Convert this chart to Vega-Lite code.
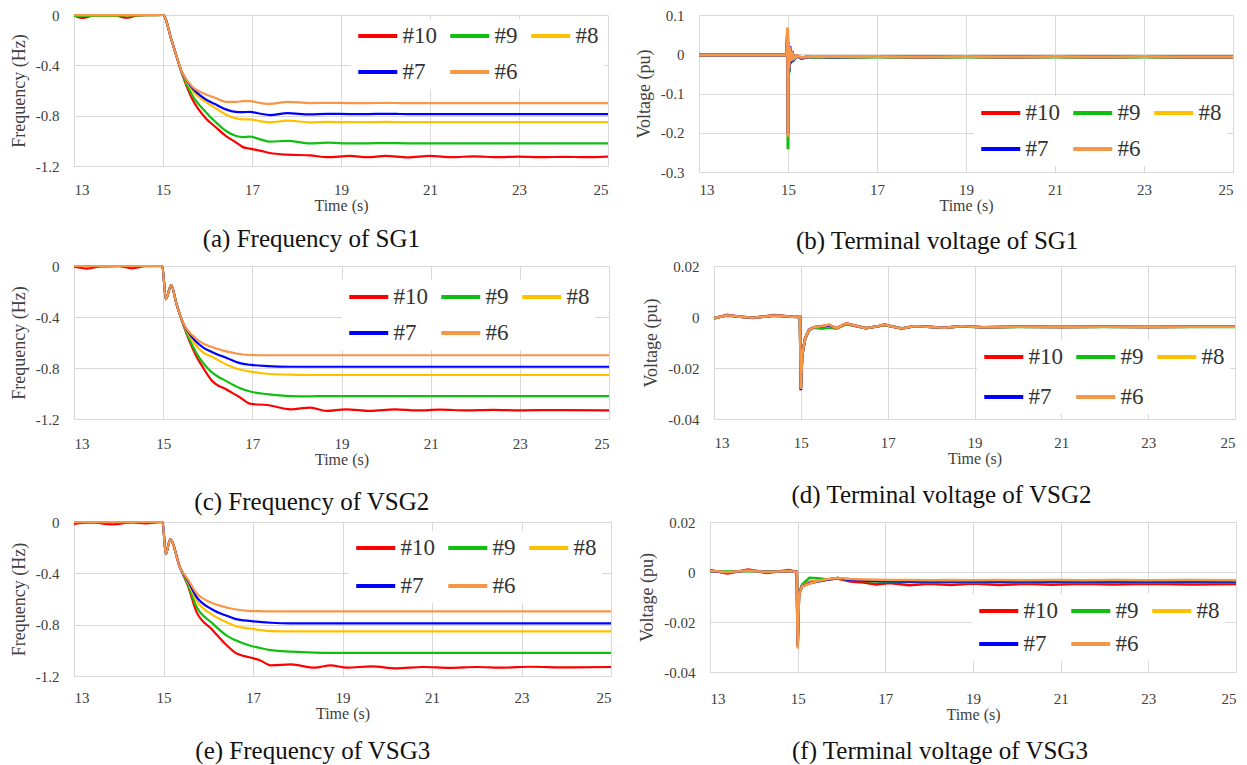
{
  "$schema": "https://vega.github.io/schema/vega-lite/v6.json",
  "background": "white",
  "padding": {"left": 10, "top": 8, "right": 4, "bottom": 0},
  "config": {
    "view": {"stroke": null},
    "axis": {"labelFont": "Liberation Serif", "labelFontSize": 15, "labelColor": "#404040", "titleFont": "Liberation Serif", "titleFontWeight": "normal", "titleColor": "#404040", "gridColor": "#d9d9d9", "domainColor": "#d9d9d9", "ticks": false},
    "axisX": {"titleFontSize": 16, "titlePadding": 0, "labelPadding": 16},
    "axisY": {"titleFontSize": 18, "labelPadding": 15, "titlePadding": 7},
    "legend": {"columns": 3, "direction": "horizontal", "symbolType": "M-1,0H3", "symbolStrokeWidth": 4, "symbolSize": 380, "labelFont": "Liberation Serif", "labelFontSize": 23, "labelColor": "#333333", "labelOffset": 22.5, "columnPadding": 5, "rowPadding": 12, "fillColor": "white", "padding": 5},
    "title": {"font": "Liberation Serif", "fontSize": 25, "fontWeight": "normal", "color": "#111111", "orient": "bottom", "anchor": "middle", "frame": "bounds"}
  },
  "datasets": {
    "a": [
      {"t": 13.0, "#10": -0.004, "#9": -0.008, "#8": -0.002, "#7": 0, "#6": 0},
      {"t": 13.2, "#10": -0.024, "#9": -0.007, "#8": -0.002, "#7": 0, "#6": 0},
      {"t": 13.45, "#10": -0.004, "#9": -0.006, "#8": -0.001, "#7": 0, "#6": 0},
      {"t": 13.9, "#10": -0.003, "#9": -0.005, "#8": -0.001, "#7": 0, "#6": 0},
      {"t": 14.2, "#10": -0.022, "#9": -0.004, "#8": -0.001, "#7": 0, "#6": 0},
      {"t": 14.45, "#10": -0.003, "#9": -0.003, "#8": 0, "#7": 0, "#6": 0},
      {"t": 14.8, "#10": -0.001, "#9": -0.001, "#8": 0, "#7": 0, "#6": 0},
      {"t": 15.0, "#10": 0, "#9": 0, "#8": 0, "#7": 0, "#6": 0},
      {"t": 15.2, "#10": -0.21, "#9": -0.21, "#8": -0.21, "#7": -0.21, "#6": -0.21},
      {"t": 15.43, "#10": -0.47, "#9": -0.465, "#8": -0.46, "#7": -0.458, "#6": -0.455},
      {"t": 15.66, "#10": -0.67, "#9": -0.64, "#8": -0.6, "#7": -0.58, "#6": -0.57},
      {"t": 15.96, "#10": -0.82, "#9": -0.77, "#8": -0.69, "#7": -0.67, "#6": -0.63},
      {"t": 16.18, "#10": -0.89, "#9": -0.85, "#8": -0.74, "#7": -0.71, "#6": -0.66},
      {"t": 16.41, "#10": -0.96, "#9": -0.92, "#8": -0.79, "#7": -0.75, "#6": -0.69},
      {"t": 16.63, "#10": -1.01, "#9": -0.96, "#8": -0.82, "#7": -0.77, "#6": -0.69},
      {"t": 16.8, "#10": -1.05, "#9": -0.97, "#8": -0.83, "#7": -0.772, "#6": -0.685},
      {"t": 16.95, "#10": -1.062, "#9": -0.967, "#8": -0.83, "#7": -0.77, "#6": -0.685},
      {"t": 17.2, "#10": -1.08, "#9": -0.99, "#8": -0.845, "#7": -0.785, "#6": -0.7},
      {"t": 17.4, "#10": -1.097, "#9": -1.007, "#8": -0.853, "#7": -0.795, "#6": -0.707},
      {"t": 17.8, "#10": -1.11, "#9": -1.0, "#8": -0.84, "#7": -0.78, "#6": -0.69},
      {"t": 18.3, "#10": -1.115, "#9": -1.02, "#8": -0.853, "#7": -0.79, "#6": -0.7},
      {"t": 18.7, "#10": -1.13, "#9": -1.015, "#8": -0.85, "#7": -0.785, "#6": -0.698},
      {"t": 19.2, "#10": -1.12, "#9": -1.02, "#8": -0.852, "#7": -0.787, "#6": -0.7},
      {"t": 19.6, "#10": -1.13, "#9": -1.02, "#8": -0.852, "#7": -0.787, "#6": -0.7},
      {"t": 20.0, "#10": -1.12, "#9": -1.018, "#8": -0.85, "#7": -0.786, "#6": -0.699},
      {"t": 20.5, "#10": -1.132, "#9": -1.02, "#8": -0.852, "#7": -0.787, "#6": -0.7},
      {"t": 21.0, "#10": -1.12, "#9": -1.02, "#8": -0.852, "#7": -0.787, "#6": -0.7},
      {"t": 21.5, "#10": -1.13, "#9": -1.02, "#8": -0.852, "#7": -0.787, "#6": -0.7},
      {"t": 22.0, "#10": -1.123, "#9": -1.02, "#8": -0.852, "#7": -0.787, "#6": -0.7},
      {"t": 22.5, "#10": -1.13, "#9": -1.02, "#8": -0.852, "#7": -0.787, "#6": -0.7},
      {"t": 23.0, "#10": -1.125, "#9": -1.02, "#8": -0.852, "#7": -0.787, "#6": -0.7},
      {"t": 23.5, "#10": -1.13, "#9": -1.02, "#8": -0.852, "#7": -0.787, "#6": -0.7},
      {"t": 24.0, "#10": -1.127, "#9": -1.02, "#8": -0.852, "#7": -0.787, "#6": -0.7},
      {"t": 24.5, "#10": -1.13, "#9": -1.02, "#8": -0.852, "#7": -0.787, "#6": -0.7},
      {"t": 25.0, "#10": -1.126, "#9": -1.02, "#8": -0.852, "#7": -0.787, "#6": -0.7}
    ],
    "b": [
      {"t": 13.0, "#10": -0.002, "#9": -0.002, "#8": -0.002, "#7": -0.002, "#6": -0.002},
      {"t": 14.0, "#10": -0.002, "#9": -0.002, "#8": -0.002, "#7": -0.002, "#6": -0.002},
      {"t": 14.97, "#10": -0.002, "#9": -0.002, "#8": -0.002, "#7": -0.002, "#6": -0.002},
      {"t": 14.99, "#10": 0.05, "#9": 0.05, "#8": 0.055, "#7": 0.06, "#6": 0.068},
      {"t": 15.0, "#10": -0.2, "#9": -0.242, "#8": -0.2, "#7": -0.2, "#6": -0.21},
      {"t": 15.01, "#10": 0.03, "#9": 0.02, "#8": 0.025, "#7": 0.03, "#6": 0.03},
      {"t": 15.02, "#10": -0.04, "#9": -0.05, "#8": -0.04, "#7": -0.045, "#6": -0.035},
      {"t": 15.04, "#10": 0.02, "#9": 0.015, "#8": 0.015, "#7": 0.02, "#6": 0.018},
      {"t": 15.06, "#10": -0.02, "#9": -0.025, "#8": -0.02, "#7": -0.022, "#6": -0.018},
      {"t": 15.09, "#10": 0.008, "#9": 0.005, "#8": 0.006, "#7": 0.008, "#6": 0.007},
      {"t": 15.13, "#10": -0.012, "#9": -0.014, "#8": -0.012, "#7": -0.013, "#6": -0.011},
      {"t": 15.2, "#10": -0.004, "#9": -0.005, "#8": -0.004, "#7": -0.004, "#6": -0.004},
      {"t": 15.3, "#10": -0.009, "#9": -0.01, "#8": -0.009, "#7": -0.01, "#6": -0.008},
      {"t": 15.5, "#10": -0.006, "#9": -0.007, "#8": -0.006, "#7": -0.006, "#6": -0.006},
      {"t": 16.0, "#10": -0.007, "#9": -0.008, "#8": -0.007, "#7": -0.007, "#6": -0.006},
      {"t": 17.0, "#10": -0.006, "#9": -0.007, "#8": -0.006, "#7": -0.006, "#6": -0.006},
      {"t": 18.0, "#10": -0.007, "#9": -0.008, "#8": -0.007, "#7": -0.007, "#6": -0.007},
      {"t": 19.0, "#10": -0.006, "#9": -0.007, "#8": -0.006, "#7": -0.006, "#6": -0.006},
      {"t": 20.0, "#10": -0.007, "#9": -0.008, "#8": -0.007, "#7": -0.007, "#6": -0.007},
      {"t": 21.0, "#10": -0.006, "#9": -0.007, "#8": -0.006, "#7": -0.006, "#6": -0.006},
      {"t": 22.0, "#10": -0.007, "#9": -0.008, "#8": -0.007, "#7": -0.007, "#6": -0.007},
      {"t": 23.0, "#10": -0.006, "#9": -0.007, "#8": -0.006, "#7": -0.006, "#6": -0.006},
      {"t": 24.0, "#10": -0.007, "#9": -0.008, "#8": -0.007, "#7": -0.007, "#6": -0.007},
      {"t": 25.0, "#10": -0.007, "#9": -0.008, "#8": -0.007, "#7": -0.007, "#6": -0.007}
    ],
    "c": [
      {"t": 13.0, "#10": -0.006, "#9": -0.002, "#8": 0, "#7": 0, "#6": 0},
      {"t": 13.3, "#10": -0.02, "#9": -0.002, "#8": 0, "#7": 0, "#6": 0},
      {"t": 13.6, "#10": -0.003, "#9": -0.001, "#8": 0, "#7": 0, "#6": 0},
      {"t": 14.0, "#10": -0.002, "#9": 0, "#8": 0, "#7": 0, "#6": 0},
      {"t": 14.3, "#10": -0.018, "#9": -0.001, "#8": 0, "#7": 0, "#6": 0},
      {"t": 14.6, "#10": -0.002, "#9": 0, "#8": 0, "#7": 0, "#6": 0},
      {"t": 14.98, "#10": 0, "#9": 0, "#8": 0, "#7": 0, "#6": 0},
      {"t": 15.06, "#10": -0.26, "#9": -0.26, "#8": -0.26, "#7": -0.26, "#6": -0.26},
      {"t": 15.18, "#10": -0.15, "#9": -0.15, "#8": -0.15, "#7": -0.15, "#6": -0.15},
      {"t": 15.3, "#10": -0.3, "#9": -0.3, "#8": -0.3, "#7": -0.3, "#6": -0.3},
      {"t": 15.45, "#10": -0.46, "#9": -0.455, "#8": -0.45, "#7": -0.448, "#6": -0.445},
      {"t": 15.73, "#10": -0.698, "#9": -0.672, "#8": -0.62, "#7": -0.59, "#6": -0.567},
      {"t": 15.9, "#10": -0.8, "#9": -0.763, "#8": -0.68, "#7": -0.64, "#6": -0.61},
      {"t": 16.08, "#10": -0.894, "#9": -0.83, "#8": -0.71, "#7": -0.672, "#6": -0.633},
      {"t": 16.44, "#10": -0.973, "#9": -0.907, "#8": -0.776, "#7": -0.724, "#6": -0.672},
      {"t": 16.7, "#10": -1.025, "#9": -0.955, "#8": -0.81, "#7": -0.76, "#6": -0.69},
      {"t": 16.97, "#10": -1.082, "#9": -0.986, "#8": -0.829, "#7": -0.776, "#6": -0.698},
      {"t": 17.33, "#10": -1.09, "#9": -1.005, "#8": -0.845, "#7": -0.785, "#6": -0.7},
      {"t": 17.86, "#10": -1.124, "#9": -1.02, "#8": -0.852, "#7": -0.79, "#6": -0.7},
      {"t": 18.3, "#10": -1.11, "#9": -1.022, "#8": -0.855, "#7": -0.79, "#6": -0.7},
      {"t": 18.66, "#10": -1.137, "#9": -1.02, "#8": -0.855, "#7": -0.79, "#6": -0.7},
      {"t": 19.1, "#10": -1.124, "#9": -1.02, "#8": -0.855, "#7": -0.79, "#6": -0.7},
      {"t": 19.64, "#10": -1.137, "#9": -1.02, "#8": -0.855, "#7": -0.79, "#6": -0.7},
      {"t": 20.2, "#10": -1.125, "#9": -1.02, "#8": -0.855, "#7": -0.79, "#6": -0.7},
      {"t": 20.7, "#10": -1.133, "#9": -1.02, "#8": -0.855, "#7": -0.79, "#6": -0.7},
      {"t": 21.2, "#10": -1.127, "#9": -1.02, "#8": -0.855, "#7": -0.79, "#6": -0.7},
      {"t": 21.8, "#10": -1.132, "#9": -1.02, "#8": -0.855, "#7": -0.79, "#6": -0.7},
      {"t": 22.4, "#10": -1.128, "#9": -1.02, "#8": -0.855, "#7": -0.79, "#6": -0.7},
      {"t": 23.0, "#10": -1.132, "#9": -1.02, "#8": -0.855, "#7": -0.79, "#6": -0.7},
      {"t": 24.0, "#10": -1.13, "#9": -1.02, "#8": -0.855, "#7": -0.79, "#6": -0.7},
      {"t": 25.0, "#10": -1.133, "#9": -1.02, "#8": -0.855, "#7": -0.79, "#6": -0.7}
    ],
    "d": [
      {"t": 13.0, "#10": -0.0006, "#9": -0.0004, "#8": -0.0005, "#7": -0.0005, "#6": -0.0005},
      {"t": 13.3, "#10": 0.0009, "#9": 0.0006, "#8": 0.0007, "#7": 0.0007, "#6": 0.0007},
      {"t": 13.6, "#10": 0.0001, "#9": 0.0001, "#8": 0.0001, "#7": 0.0001, "#6": 0.0001},
      {"t": 13.9, "#10": -0.0004, "#9": -0.0002, "#8": -0.0003, "#7": -0.0003, "#6": -0.0003},
      {"t": 14.4, "#10": 0.0008, "#9": 0.0005, "#8": 0.0006, "#7": 0.0006, "#6": 0.0006},
      {"t": 14.8, "#10": 0.0001, "#9": 0.0001, "#8": 0.0001, "#7": 0.0001, "#6": 0.0001},
      {"t": 14.98, "#10": 0, "#9": 0, "#8": 0, "#7": 0, "#6": 0},
      {"t": 15.0, "#10": -0.0283, "#9": -0.0284, "#8": -0.0284, "#7": -0.0287, "#6": -0.0282},
      {"t": 15.03, "#10": -0.015, "#9": -0.015, "#8": -0.015, "#7": -0.015, "#6": -0.015},
      {"t": 15.1, "#10": -0.0082, "#9": -0.0086, "#8": -0.0084, "#7": -0.0084, "#6": -0.0084},
      {"t": 15.19, "#10": -0.005, "#9": -0.0052, "#8": -0.005, "#7": -0.005, "#6": -0.005},
      {"t": 15.3, "#10": -0.004, "#9": -0.0042, "#8": -0.004, "#7": -0.004, "#6": -0.004},
      {"t": 15.47, "#10": -0.0036, "#9": -0.0046, "#8": -0.0038, "#7": -0.0037, "#6": -0.0036},
      {"t": 15.66, "#10": -0.0032, "#9": -0.0042, "#8": -0.0034, "#7": -0.0033, "#6": -0.003},
      {"t": 15.82, "#10": -0.0044, "#9": -0.0046, "#8": -0.0045, "#7": -0.0045, "#6": -0.0045},
      {"t": 16.05, "#10": -0.0025, "#9": -0.0028, "#8": -0.0026, "#7": -0.0026, "#6": -0.0025},
      {"t": 16.33, "#10": -0.0037, "#9": -0.0038, "#8": -0.0037, "#7": -0.0037, "#6": -0.0037},
      {"t": 16.5, "#10": -0.0044, "#9": -0.0043, "#8": -0.0044, "#7": -0.0044, "#6": -0.0044},
      {"t": 16.8, "#10": -0.0035, "#9": -0.0036, "#8": -0.0035, "#7": -0.0035, "#6": -0.0035},
      {"t": 16.93, "#10": -0.003, "#9": -0.0032, "#8": -0.003, "#7": -0.003, "#6": -0.003},
      {"t": 17.1, "#10": -0.0037, "#9": -0.0037, "#8": -0.0037, "#7": -0.0037, "#6": -0.0037},
      {"t": 17.33, "#10": -0.0045, "#9": -0.0044, "#8": -0.0045, "#7": -0.0045, "#6": -0.0045},
      {"t": 17.6, "#10": -0.0036, "#9": -0.0037, "#8": -0.0036, "#7": -0.0036, "#6": -0.0036},
      {"t": 17.9, "#10": -0.0038, "#9": -0.0038, "#8": -0.0038, "#7": -0.0038, "#6": -0.0038},
      {"t": 18.3, "#10": -0.0042, "#9": -0.0041, "#8": -0.0042, "#7": -0.0042, "#6": -0.0042},
      {"t": 18.7, "#10": -0.0036, "#9": -0.0037, "#8": -0.0036, "#7": -0.0036, "#6": -0.0036},
      {"t": 19.2, "#10": -0.004, "#9": -0.004, "#8": -0.004, "#7": -0.004, "#6": -0.004},
      {"t": 20.0, "#10": -0.0038, "#9": -0.0039, "#8": -0.0038, "#7": -0.0038, "#6": -0.0038},
      {"t": 21.0, "#10": -0.0039, "#9": -0.0039, "#8": -0.0039, "#7": -0.0039, "#6": -0.0039},
      {"t": 22.0, "#10": -0.0038, "#9": -0.0039, "#8": -0.0038, "#7": -0.0038, "#6": -0.0038},
      {"t": 23.0, "#10": -0.0039, "#9": -0.0039, "#8": -0.0039, "#7": -0.0039, "#6": -0.0039},
      {"t": 24.0, "#10": -0.0038, "#9": -0.0039, "#8": -0.0038, "#7": -0.0038, "#6": -0.0038},
      {"t": 25.0, "#10": -0.0038, "#9": -0.0039, "#8": -0.0038, "#7": -0.0038, "#6": -0.0038}
    ],
    "e": [
      {"t": 13.0, "#10": -0.015, "#9": -0.004, "#8": 0, "#7": 0, "#6": 0},
      {"t": 13.4, "#10": -0.004, "#9": -0.003, "#8": 0, "#7": 0, "#6": 0},
      {"t": 13.85, "#10": -0.018, "#9": -0.004, "#8": 0, "#7": 0, "#6": 0},
      {"t": 14.3, "#10": -0.004, "#9": -0.002, "#8": 0, "#7": 0, "#6": 0},
      {"t": 14.6, "#10": -0.01, "#9": -0.002, "#8": 0, "#7": 0, "#6": 0},
      {"t": 14.98, "#10": 0, "#9": 0, "#8": 0, "#7": 0, "#6": 0},
      {"t": 15.05, "#10": -0.25, "#9": -0.25, "#8": -0.25, "#7": -0.25, "#6": -0.25},
      {"t": 15.15, "#10": -0.135, "#9": -0.135, "#8": -0.135, "#7": -0.135, "#6": -0.135},
      {"t": 15.37, "#10": -0.356, "#9": -0.356, "#8": -0.356, "#7": -0.356, "#6": -0.356},
      {"t": 15.55, "#10": -0.5, "#9": -0.49, "#8": -0.47, "#7": -0.46, "#6": -0.45},
      {"t": 15.73, "#10": -0.694, "#9": -0.655, "#8": -0.608, "#7": -0.58, "#6": -0.55},
      {"t": 16.08, "#10": -0.836, "#9": -0.785, "#8": -0.72, "#7": -0.68, "#6": -0.63},
      {"t": 16.43, "#10": -0.966, "#9": -0.889, "#8": -0.785, "#7": -0.733, "#6": -0.668},
      {"t": 16.6, "#10": -1.018, "#9": -0.92, "#8": -0.81, "#7": -0.755, "#6": -0.68},
      {"t": 16.96, "#10": -1.058, "#9": -0.966, "#8": -0.831, "#7": -0.772, "#6": -0.694},
      {"t": 17.14, "#10": -1.075, "#9": -0.98, "#8": -0.84, "#7": -0.778, "#6": -0.695},
      {"t": 17.4, "#10": -1.117, "#9": -0.998, "#8": -0.85, "#7": -0.785, "#6": -0.697},
      {"t": 17.85, "#10": -1.11, "#9": -1.01, "#8": -0.853, "#7": -0.79, "#6": -0.697},
      {"t": 18.38, "#10": -1.135, "#9": -1.018, "#8": -0.853, "#7": -0.79, "#6": -0.697},
      {"t": 18.73, "#10": -1.117, "#9": -1.02, "#8": -0.853, "#7": -0.79, "#6": -0.697},
      {"t": 19.1, "#10": -1.135, "#9": -1.02, "#8": -0.853, "#7": -0.79, "#6": -0.697},
      {"t": 19.65, "#10": -1.125, "#9": -1.02, "#8": -0.853, "#7": -0.79, "#6": -0.697},
      {"t": 20.2, "#10": -1.14, "#9": -1.02, "#8": -0.853, "#7": -0.79, "#6": -0.697},
      {"t": 20.8, "#10": -1.13, "#9": -1.02, "#8": -0.853, "#7": -0.79, "#6": -0.697},
      {"t": 21.4, "#10": -1.137, "#9": -1.02, "#8": -0.853, "#7": -0.79, "#6": -0.697},
      {"t": 22.0, "#10": -1.13, "#9": -1.02, "#8": -0.853, "#7": -0.79, "#6": -0.697},
      {"t": 22.6, "#10": -1.135, "#9": -1.02, "#8": -0.853, "#7": -0.79, "#6": -0.697},
      {"t": 23.2, "#10": -1.128, "#9": -1.02, "#8": -0.853, "#7": -0.79, "#6": -0.697},
      {"t": 24.0, "#10": -1.133, "#9": -1.02, "#8": -0.853, "#7": -0.79, "#6": -0.697},
      {"t": 25.0, "#10": -1.13, "#9": -1.02, "#8": -0.853, "#7": -0.79, "#6": -0.697}
    ],
    "f": [
      {"t": 13.0, "#10": 0.0008, "#9": 0.0002, "#8": 0.0004, "#7": 0.0004, "#6": 0.0005},
      {"t": 13.4, "#10": -0.0006, "#9": 0.0002, "#8": -0.0002, "#7": -0.0002, "#6": -0.0001},
      {"t": 13.87, "#10": 0.001, "#9": 0.0004, "#8": 0.0006, "#7": 0.0006, "#6": 0.0006},
      {"t": 14.3, "#10": -0.0004, "#9": 0.0003, "#8": 0, "#7": 0, "#6": 0},
      {"t": 14.8, "#10": 0.0008, "#9": 0.0002, "#8": 0.0004, "#7": 0.0004, "#6": 0.0004},
      {"t": 14.98, "#10": 0, "#9": 0, "#8": 0, "#7": 0, "#6": 0},
      {"t": 15.0, "#10": -0.029, "#9": -0.029, "#8": -0.029, "#7": -0.0295, "#6": -0.0306},
      {"t": 15.03, "#10": -0.009, "#9": -0.0088, "#8": -0.009, "#7": -0.009, "#6": -0.0092},
      {"t": 15.1, "#10": -0.0056, "#9": -0.005, "#8": -0.0055, "#7": -0.0057, "#6": -0.0058},
      {"t": 15.27, "#10": -0.004, "#9": -0.0023, "#8": -0.0042, "#7": -0.0045, "#6": -0.0047},
      {"t": 15.46, "#10": -0.0035, "#9": -0.0025, "#8": -0.0035, "#7": -0.0038, "#6": -0.0036},
      {"t": 15.7, "#10": -0.003, "#9": -0.003, "#8": -0.003, "#7": -0.003, "#6": -0.0028},
      {"t": 15.91, "#10": -0.0026, "#9": -0.0024, "#8": -0.0024, "#7": -0.0024, "#6": -0.0024},
      {"t": 16.2, "#10": -0.0038, "#9": -0.0033, "#8": -0.003, "#7": -0.0032, "#6": -0.0028},
      {"t": 16.5, "#10": -0.0042, "#9": -0.0036, "#8": -0.0032, "#7": -0.0034, "#6": -0.003},
      {"t": 16.8, "#10": -0.005, "#9": -0.0038, "#8": -0.0034, "#7": -0.0036, "#6": -0.0031},
      {"t": 17.1, "#10": -0.0044, "#9": -0.0039, "#8": -0.0035, "#7": -0.0037, "#6": -0.0032},
      {"t": 17.55, "#10": -0.0053, "#9": -0.004, "#8": -0.0035, "#7": -0.0038, "#6": -0.0032},
      {"t": 18.0, "#10": -0.0047, "#9": -0.0041, "#8": -0.0035, "#7": -0.0038, "#6": -0.0033},
      {"t": 18.5, "#10": -0.0052, "#9": -0.004, "#8": -0.0035, "#7": -0.0038, "#6": -0.0032},
      {"t": 19.0, "#10": -0.0046, "#9": -0.0041, "#8": -0.0035, "#7": -0.0038, "#6": -0.0033},
      {"t": 19.6, "#10": -0.0052, "#9": -0.0041, "#8": -0.0035, "#7": -0.0038, "#6": -0.0032},
      {"t": 20.2, "#10": -0.0047, "#9": -0.0041, "#8": -0.0035, "#7": -0.0038, "#6": -0.0033},
      {"t": 20.8, "#10": -0.0051, "#9": -0.0041, "#8": -0.0035, "#7": -0.0038, "#6": -0.0032},
      {"t": 21.5, "#10": -0.0047, "#9": -0.0041, "#8": -0.0035, "#7": -0.0038, "#6": -0.0033},
      {"t": 22.2, "#10": -0.005, "#9": -0.0041, "#8": -0.0035, "#7": -0.0038, "#6": -0.0032},
      {"t": 23.0, "#10": -0.0047, "#9": -0.0041, "#8": -0.0035, "#7": -0.0038, "#6": -0.0033},
      {"t": 24.0, "#10": -0.005, "#9": -0.0041, "#8": -0.0035, "#7": -0.0038, "#6": -0.0032},
      {"t": 25.0, "#10": -0.0048, "#9": -0.0041, "#8": -0.0035, "#7": -0.0038, "#6": -0.0033}
    ]
  },
  "spacing": 5,
  "resolve": {"scale": {"color": "independent"}, "legend": {"color": "independent"}},
  "vconcat": [
    {
      "spacing": 22,
      "resolve": {"scale": {"color": "independent"}, "legend": {"color": "independent"}},
      "hconcat": [
        {
          "width": 534, "height": 151,
          "data": {"name": "a"},
          "transform": [{"fold": ["#10", "#9", "#8", "#7", "#6"], "as": ["series", "v"]}],
          "mark": {"type": "line", "interpolate": "monotone", "strokeWidth": 2.2},
          "encoding": {
            "x": {"field": "t", "type": "quantitative", "scale": {"domain": [13, 25], "nice": false, "zero": false}, "axis": {"values": [13, 15, 17, 19, 21, 23, 25], "title": "Time (s)", "labelPadding": 16}},
            "y": {"field": "v", "type": "quantitative", "scale": {"domain": [-1.2, 0], "nice": false}, "axis": {"values": [0, -0.4, -0.8, -1.2], "title": "Frequency (Hz)", "labelExpr": "datum.value == 0 ? '0' : (datum.value < 0 ? '-' : '') + format(abs(datum.value), '~g')"}},
            "color": {"field": "series", "type": "nominal", "scale": {"domain": ["#10", "#9", "#8", "#7", "#6"], "range": ["#ff0000", "#10c010", "#ffc000", "#0000ff", "#f79646"]}, "legend": {"title": null, "orient": "top-right", "offset": 4, "rowPadding": 12}}
          },
          "title": {"text": "(a) Frequency of SG1", "offset": 14}
        },
        {
          "width": 534, "height": 157,
          "data": {"name": "b"},
          "transform": [{"fold": ["#10", "#9", "#8", "#7", "#6"], "as": ["series", "v"]}],
          "mark": {"type": "line", "interpolate": "linear", "strokeWidth": 3},
          "encoding": {
            "x": {"field": "t", "type": "quantitative", "scale": {"domain": [13, 25], "nice": false, "zero": false}, "axis": {"values": [13, 15, 17, 19, 21, 23, 25], "title": "Time (s)", "labelPadding": 10}},
            "y": {"field": "v", "type": "quantitative", "scale": {"domain": [-0.3, 0.1], "nice": false}, "axis": {"values": [0.1, 0, -0.1, -0.2, -0.3], "title": "Voltage (pu)", "labelExpr": "datum.value == 0 ? '0' : (datum.value < 0 ? '-' : '') + format(abs(datum.value), '~g')"}},
            "color": {"field": "series", "type": "nominal", "scale": {"domain": ["#10", "#9", "#8", "#7", "#6"], "range": ["#ff0000", "#10c010", "#ffc000", "#0000ff", "#f79646"]}, "legend": {"title": null, "orient": "bottom-right", "offset": 6, "rowPadding": 12}}
          },
          "title": {"text": "(b) Terminal voltage of SG1", "offset": 16}
        }
      ]
    },
    {
      "spacing": 0,
      "resolve": {"scale": {"color": "independent"}, "legend": {"color": "independent"}},
      "vconcat": [
        {
          "spacing": 28,
          "resolve": {"scale": {"color": "independent"}, "legend": {"color": "independent"}},
          "hconcat": [
            {
              "width": 535, "height": 153,
              "data": {"name": "c"},
              "transform": [{"fold": ["#10", "#9", "#8", "#7", "#6"], "as": ["series", "v"]}],
              "mark": {"type": "line", "interpolate": "monotone", "strokeWidth": 2.2},
              "encoding": {
                "x": {"field": "t", "type": "quantitative", "scale": {"domain": [13, 25], "nice": false, "zero": false}, "axis": {"values": [13, 15, 17, 19, 21, 23, 25], "title": "Time (s)", "labelPadding": 17}},
                "y": {"field": "v", "type": "quantitative", "scale": {"domain": [-1.2, 0], "nice": false}, "axis": {"values": [0, -0.4, -0.8, -1.2], "title": "Frequency (Hz)", "labelExpr": "datum.value == 0 ? '0' : (datum.value < 0 ? '-' : '') + format(abs(datum.value), '~g')"}},
                "color": {"field": "series", "type": "nominal", "scale": {"domain": ["#10", "#9", "#8", "#7", "#6"], "range": ["#ff0000", "#10c010", "#ffc000", "#0000ff", "#f79646"]}, "legend": {"title": null, "orient": "top-right", "offset": 14, "rowPadding": 12}}
              },
              "title": {"text": "(c) Frequency of VSG2", "offset": 23}
            },
            {
              "width": 521, "height": 153,
              "data": {"name": "d"},
              "transform": [{"fold": ["#10", "#9", "#8", "#7", "#6"], "as": ["series", "v"]}],
              "mark": {"type": "line", "interpolate": "linear", "strokeWidth": 2.6},
              "encoding": {
                "x": {"field": "t", "type": "quantitative", "scale": {"domain": [13, 25], "nice": false, "zero": false}, "axis": {"values": [13, 15, 17, 19, 21, 23, 25], "title": "Time (s)", "labelPadding": 16}},
                "y": {"field": "v", "type": "quantitative", "scale": {"domain": [-0.04, 0.02], "nice": false}, "axis": {"values": [0.02, 0, -0.02, -0.04], "title": "Voltage (pu)", "labelExpr": "datum.value == 0 ? '0' : (datum.value < 0 ? '-' : '') + format(abs(datum.value), '~g')"}},
                "color": {"field": "series", "type": "nominal", "scale": {"domain": ["#10", "#9", "#8", "#7", "#6"], "range": ["#ff0000", "#10c010", "#ffc000", "#0000ff", "#f79646"]}, "legend": {"title": null, "orient": "bottom-right", "offset": 5, "rowPadding": 16}}
              },
              "title": {"text": "(d) Terminal voltage of VSG2", "offset": 17}
            }
          ]
        },
        {
          "spacing": 22,
          "resolve": {"scale": {"color": "independent"}, "legend": {"color": "independent"}},
          "hconcat": [
            {
              "width": 537, "height": 154,
              "data": {"name": "e"},
              "transform": [{"fold": ["#10", "#9", "#8", "#7", "#6"], "as": ["series", "v"]}],
              "mark": {"type": "line", "interpolate": "monotone", "strokeWidth": 2.2},
              "encoding": {
                "x": {"field": "t", "type": "quantitative", "scale": {"domain": [13, 25], "nice": false, "zero": false}, "axis": {"values": [13, 15, 17, 19, 21, 23, 25], "title": "Time (s)", "labelPadding": 14}},
                "y": {"field": "v", "type": "quantitative", "scale": {"domain": [-1.2, 0], "nice": false}, "axis": {"values": [0, -0.4, -0.8, -1.2], "title": "Frequency (Hz)", "labelExpr": "datum.value == 0 ? '0' : (datum.value < 0 ? '-' : '') + format(abs(datum.value), '~g')"}},
                "color": {"field": "series", "type": "nominal", "scale": {"domain": ["#10", "#9", "#8", "#7", "#6"], "range": ["#ff0000", "#10c010", "#ffc000", "#0000ff", "#f79646"]}, "legend": {"title": null, "orient": "top-right", "offset": 9, "rowPadding": 14}}
              },
              "title": {"text": "(e) Frequency of VSG3", "offset": 18}
            },
            {
              "width": 526, "height": 150,
              "data": {"name": "f"},
              "transform": [{"fold": ["#10", "#9", "#8", "#7", "#6"], "as": ["series", "v"]}],
              "mark": {"type": "line", "interpolate": "linear", "strokeWidth": 2.6},
              "encoding": {
                "x": {"field": "t", "type": "quantitative", "scale": {"domain": [13, 25], "nice": false, "zero": false}, "axis": {"values": [13, 15, 17, 19, 21, 23, 25], "title": "Time (s)", "labelPadding": 19}},
                "y": {"field": "v", "type": "quantitative", "scale": {"domain": [-0.04, 0.02], "nice": false}, "axis": {"values": [0.02, 0, -0.02, -0.04], "title": "Voltage (pu)", "labelExpr": "datum.value == 0 ? '0' : (datum.value < 0 ? '-' : '') + format(abs(datum.value), '~g')"}},
                "color": {"field": "series", "type": "nominal", "scale": {"domain": ["#10", "#9", "#8", "#7", "#6"], "range": ["#ff0000", "#10c010", "#ffc000", "#0000ff", "#f79646"]}, "legend": {"title": null, "orient": "bottom-right", "offset": 11, "rowPadding": 9}}
              },
              "title": {"text": "(f) Terminal voltage of VSG3", "offset": 17}
            }
          ]
        }
      ]
    }
  ]
}
